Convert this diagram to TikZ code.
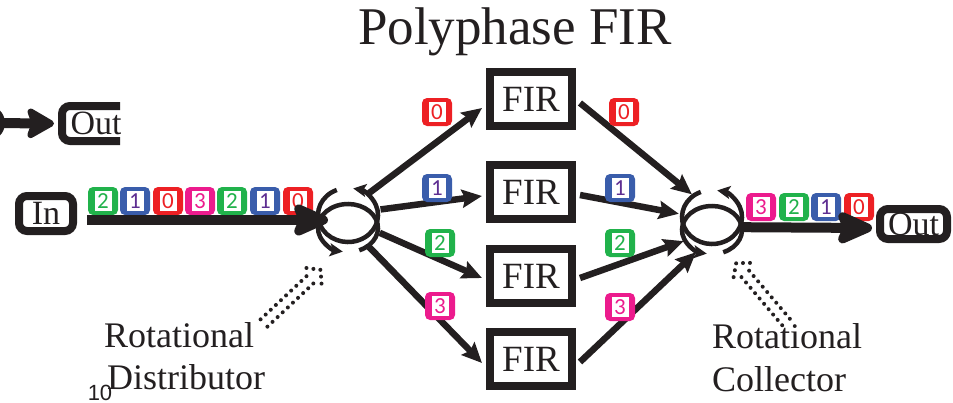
\documentclass[tikz,border=0pt]{standalone}
\usepackage{fontspec}
\setmainfont{Liberation Serif}
\newfontfamily\tokfont{Carlito}
\newfontfamily\pgfont{Liberation Sans}
\usetikzlibrary{arrows.meta,calc}
\definecolor{tred}{HTML}{ED2024}
\definecolor{tblue}{HTML}{3A5DAB}
\definecolor{tpurple}{HTML}{5E2E91}
\definecolor{tgreen}{HTML}{21B24B}
\definecolor{tmag}{HTML}{EC1B8D}
\definecolor{ink}{HTML}{231F20}
\tikzset{
  tokbox/.style={fill=#1, rounded corners=5pt, minimum width=30pt, minimum height=28pt, inner sep=0pt, draw=none},
  tokin/.style={fill=white, text=#1, minimum width=17pt, minimum height=20pt, inner sep=0pt, font=\tokfont\fontsize{23}{23}\selectfont},
  firbox/.style={draw=ink, line width=8pt, minimum width=82pt, minimum height=54pt, inner sep=0pt, text=ink, font=\fontsize{37}{37}\selectfont},
  iobox/.style={draw=ink, line width=8pt, rounded corners=8pt, inner sep=0pt, text=ink, font=\fontsize{34}{34}\selectfont},
  thinarrow/.style={draw=ink, line width=6.5pt, -{Stealth[length=20pt,width=18pt,inset=3pt]}},
  bigarrow/.style={draw=ink, line width=10pt, -{Stealth[length=44pt,width=38pt,inset=8pt,round]}},
  rotline/.style={draw=ink, line width=4.5pt, -{Stealth[length=13pt,width=13pt,inset=3pt]}},
  dotline/.style={draw=ink, line width=4pt, line cap=round, dash pattern=on 0pt off 7pt},
  captext/.style={inner sep=0pt, text=ink, font=\fontsize{36}{36}\selectfont},
  hub/.style={circle, minimum size=68pt, inner sep=0pt}
}
\newcommand\tokat[5]{\node[tokbox=#3] (#1) at (#2) {}; \node[tokin=#4] (#1d) at (#2) {#5};}
\newcommand\rotsym[1]{%
  \begin{scope}[shift={(#1.center)}, x=1pt, y=1pt]
    \draw[rotline] (0,5) ++(112:30 and 27) arc[start angle=112, end angle=440, x radius=30, y radius=27];
    \draw[rotline] (0,-8) ++(-68:30 and 24) arc[start angle=-68, end angle=260, x radius=30, y radius=24];
  \end{scope}}
\newcommand\dblarrow[2]{%
  \draw[dotline] ($(#1)!5pt!90:(#2)$) -- ($(#2)!5pt!-90:(#1)$);
  \draw[dotline] ($(#1)!5pt!-90:(#2)$) -- ($(#2)!5pt!90:(#1)$);
  \draw[dotline] ($(#2)!11pt!-90:(#1)$) -- ($(#2)!-9pt!(#1)$) -- ($(#2)!11pt!90:(#1)$);}
\begin{document}
\begin{tikzpicture}[x=1pt,y=-1pt]
\useasboundingbox (0,0) rectangle (953,402);
\clip (0,0) rectangle (953,402);

% title
\node[anchor=base, inner sep=0pt, text=ink, font=\fontsize{53}{53}\selectfont] (title) at (515,44) {Polyphase FIR};

% clipped fragment at top left
\begin{scope}
  \clip (0,0) rectangle (120,402);
  \node[circle, fill=ink, minimum size=36pt, inner sep=0pt] (ocirc) at (-13,123) {};
  \node[iobox, minimum width=68pt, minimum height=35pt] (outzero) at (96,123.5) {Out};
  \draw[draw=ink, line width=10pt, -{Stealth[length=32pt,width=36pt,inset=6pt,round]}] (ocirc.center) -- ([xshift=-4pt]outzero.west);
\end{scope}

% in / out boxes
\node[iobox, minimum width=54pt, minimum height=35pt] (in) at (46,213.5) {In};
\node[iobox, minimum width=67pt, minimum height=30pt] (out) at (913.5,224) {Out};

% FIR boxes
\node[firbox] (f1) at (531,99) {FIR};
\node[firbox] (f2) at (531,192) {FIR};
\node[firbox] (f3) at (531,276) {FIR};
\node[firbox] (f4) at (531,359) {FIR};

% hubs
\node[hub] (dist) at (348,220) {};
\node[hub] (col) at (712,222) {};

% input stream tokens
\tokat{a1}{103,201}{tgreen}{tgreen}{2}
\tokat{a2}{135,201}{tblue}{tpurple}{1}
\tokat{a3}{168,201}{tred}{tred}{0}
\tokat{a4}{200,201}{tmag}{tmag}{3}
\tokat{a5}{232,201}{tgreen}{tgreen}{2}
\tokat{a6}{265,201}{tblue}{tpurple}{1}
\tokat{a7}{298,201}{tred}{tred}{0}

% output stream tokens
\tokat{b1}{761,207}{tmag}{tmag}{3}
\tokat{b2}{794,207}{tgreen}{tgreen}{2}
\tokat{b3}{826,207}{tblue}{tpurple}{1}
\tokat{b4}{859,207}{tred}{tred}{0}

% main in / out arrows
\draw[bigarrow, shorten <=10pt, shorten >=20pt] ([yshift=-6.5pt]in.east) -- (dist.center);
\draw[bigarrow, shorten <=30pt] ([yshift=-5pt]col.center) -- ([xshift=-4pt,yshift=-4pt]out.west);

% rotation symbols
\rotsym{dist}
\rotsym{col}

% distributor to FIRs
\draw[thinarrow] (dist.52) -- ([shift={(-4,9)}]f1.west);
\draw[thinarrow] (dist.18) -- ([shift={(-4,4)}]f2.west);
\draw[thinarrow] (dist.-22) -- ([shift={(-4,2)}]f3.west);
\draw[thinarrow] (dist.-52) -- ([shift={(-4,4)}]f4.west);

% FIRs to collector
\draw[thinarrow] ([shift={(4,4)}]f1.east) -- (col.126);
\draw[thinarrow] ([shift={(4,3)}]f2.east) -- (col.166);
\draw[thinarrow] ([shift={(4,2)}]f3.east) -- (col.-146);
\draw[thinarrow] ([shift={(4,3)}]f4.east) -- (col.-118);

% path labels
\tokat{l0}{437,112}{tred}{tred}{0}
\tokat{l1}{437,188}{tblue}{tpurple}{1}
\tokat{l2}{440,243}{tgreen}{tgreen}{2}
\tokat{l3}{440,306}{tmag}{tmag}{3}
\tokat{r0}{624,112}{tred}{tred}{0}
\tokat{r1}{620,188}{tblue}{tpurple}{1}
\tokat{r2}{620,243}{tgreen}{tgreen}{2}
\tokat{r3}{620,307}{tmag}{tmag}{3}

% dotted pointer arrows
\coordinate (dt) at (264,323);
\coordinate (dh) at (314,276);
\coordinate (ct) at (786,322);
\coordinate (ch) at (742,270);
\dblarrow{dt}{dh}
\dblarrow{ct}{ch}

% captions
\node[captext, anchor=base west] (rd1) at (104,347) {Rotational};
\node[captext, anchor=base west] (rd2) at (107,389) {Distributor};
\node[captext, anchor=base west] (rc1) at (712,348) {Rotational};
\node[captext, anchor=base west] (rc2) at (712,391) {Collector};

% page number
\node[anchor=base, inner sep=0pt, text=ink, font=\pgfont\fontsize{22}{22}\selectfont] (pg) at (100,400) {10};
\end{tikzpicture}
\end{document}
